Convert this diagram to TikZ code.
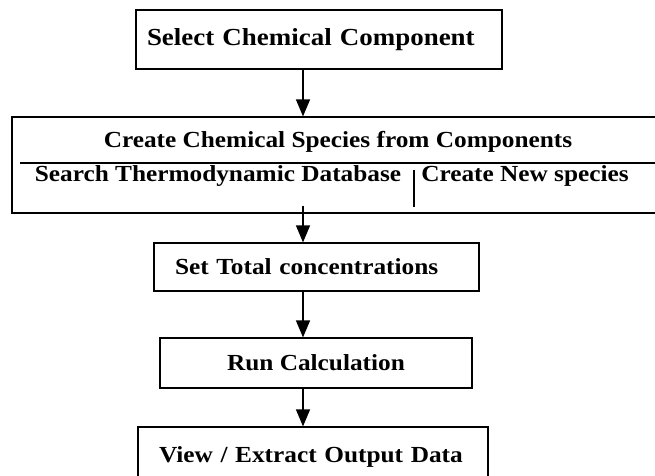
\documentclass[tikz,border=0pt]{standalone}
\usepackage{fontspec}
\setmainfont{Liberation Serif}[FakeStretch=1.1]
\usetikzlibrary{arrows.meta}

\tikzset{
  stepbox/.style={draw, line width=1.2pt, inner sep=0pt},
  lbl/.style={font=\bfseries\fontsize{23}{26}\selectfont, inner sep=0pt},
  flow/.style={line width=1.3pt, -{Triangle[width=14pt,length=17pt]}}
}

\begin{document}
\begin{tikzpicture}[x=1pt,y=-1pt]
\useasboundingbox (0,0) rectangle (655,475);
\clip (0,0) rectangle (655,475);

\node[stepbox, lbl, font=\bfseries\fontsize{24.5}{27}\selectfont, align=left, inner xsep=11pt, text width=344pt, minimum height=59pt] (sel) at (319,39.5) {Select Chemical Component};

% wide box, runs off the right side
\node[stepbox, minimum width=652pt, minimum height=96pt] (spec) at (338,165) {};
\node[lbl] (spect) at (338,142) {Create Chemical Species from Components};
\node[lbl] (srch) at (218,176) {Search Thermodynamic Database};
\node[lbl] (newsp) at (525,176) {Create New species};
\coordinate (rule) at (20,163);
\draw[line width=1.2pt] (rule) -- (rule -| spec.east);
\coordinate (divd) at (414,170);
\draw[line width=1.2pt] (divd) -- ++(0,37);

\node[stepbox, lbl, align=left, inner xsep=21pt, text width=283pt, minimum height=48pt] (tot) at (316.5,267) {Set Total concentrations};
\node[stepbox, lbl, minimum width=312pt, minimum height=50pt] (run) at (316,363) {Run Calculation};
\node[stepbox, lbl, align=left, inner xsep=21pt, text width=308pt, minimum height=60pt] (view) at (313,457) {View / Extract Output Data};

\coordinate (ax) at (303,0);
\draw[flow] (sel.south -| ax) -- (spec.north -| ax);
\draw[flow] ([yshift=8pt]spec.south -| ax) -- (tot.north -| ax);
\draw[flow] (tot.south -| ax) -- (run.north -| ax);
\draw[flow] (run.south -| ax) -- (view.north -| ax);
\end{tikzpicture}
\end{document}
